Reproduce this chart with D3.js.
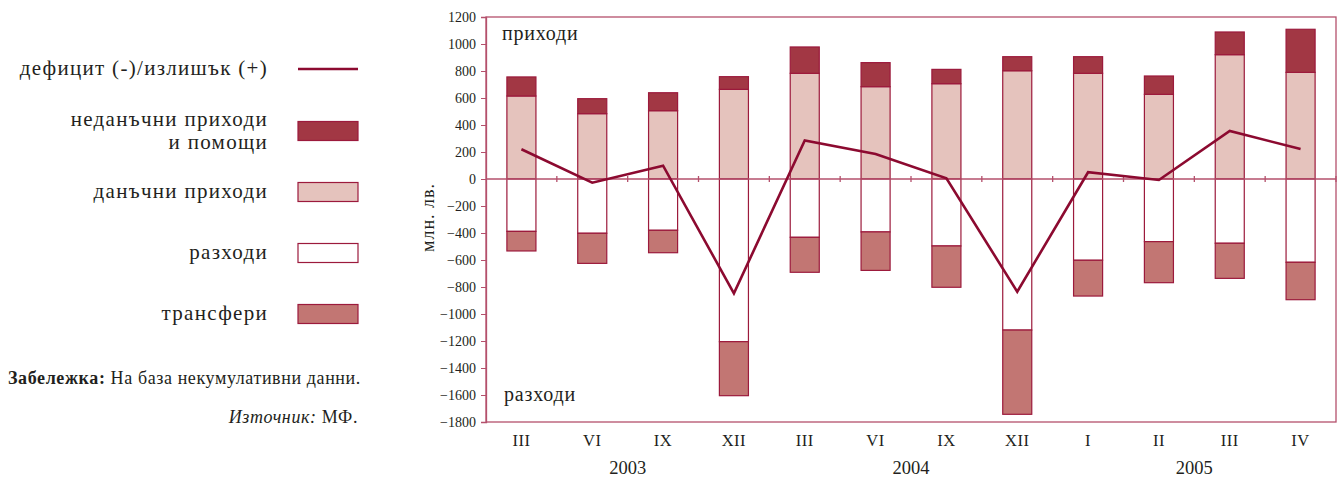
<!DOCTYPE html>
<html>
<head>
<meta charset="utf-8">
<script src="https://cdn.jsdelivr.net/npm/d3@7"></script>
<style>
  body { margin: 0; background: #fff; }
  text { font-family: "Liberation Serif", "DejaVu Serif", serif; fill: #231f20; }
</style>
</head>
<body>
<svg id="chart" width="1339" height="480"></svg>
<script>
// periods (roman month numbers) and the year each group belongs to
const months = ['III', 'VI', 'IX', 'XII', 'III', 'VI', 'IX', 'XII', 'I', 'II', 'III', 'IV'];
const years = [
  { label: '2003', from: 0, to: 3 },
  { label: '2004', from: 4, to: 7 },
  { label: '2005', from: 8, to: 11 }
];

// млн. лв.
const taxRevenue = [615, 484, 506, 664, 783, 684, 706, 802, 783, 627, 921, 790];
const nonTaxRevenue = [141, 111, 133, 94, 195, 178, 106, 104, 123, 136, 168, 319];
const expenditure = [-388, -402, -380, -1205, -432, -392, -496, -1119, -602, -464, -476, -617];
const transfers = [-145, -223, -166, -400, -259, -285, -306, -624, -265, -304, -260, -277];
const balance = [220, -27, 99, -847, 286, 185, 5, -835, 50, -7, 356, 222];

const yTicks = d3.range(-1800, 1201, 200);

const col = {
  nonTax: '#a23744',
  tax: '#e5c3bd',
  exp: '#ffffff',
  trans: '#c27673',
  stroke: '#9c1a3c',
  line: '#8c0a30',
  axis: '#b4506c'
};

const svg = d3.select('#chart');

const x = d3.scaleBand()
  .domain(d3.range(months.length))
  .range([486, 1336])
  .paddingInner(0.59)
  .paddingOuter(0.295);

const y = d3.scaleLinear().domain([-1800, 1200]).range([422, 17]);

const rows = months.map((m, i) => ({
  i,
  tax: taxRevenue[i],
  nonTax: nonTaxRevenue[i],
  exp: expenditure[i],
  trans: transfers[i],
  bal: balance[i]
}));

// frame
svg.append('rect')
  .attr('x', x.range()[0]).attr('y', y(1200))
  .attr('width', x.range()[1] - x.range()[0])
  .attr('height', y(-1800) - y(1200))
  .attr('fill', 'none').attr('stroke', col.axis).attr('stroke-width', 1.3);

// y axis
const yAxis = svg.append('g')
  .attr('transform', 'translate(486,0)')
  .call(d3.axisLeft(y).tickValues(yTicks).tickSize(5).tickPadding(5).tickFormat(d3.format('d')));
yAxis.select('.domain').attr('stroke', col.axis).attr('stroke-width', 1.3);
yAxis.selectAll('line').attr('stroke', col.axis);
yAxis.selectAll('text')
  .style('font-family', '"Liberation Serif", serif')
  .style('font-size', '14px').attr('fill', '#231f20');

svg.append('text')
  .attr('transform', 'translate(434,' + y(-285) + ') rotate(-90)')
  .attr('text-anchor', 'middle')
  .style('font-size', '18px')
  .style('letter-spacing', '1px')
  .text('млн. лв.');

// bars
const bars = svg.append('g');
const seg = (key, v0, v1, fill) => bars.selectAll('rect.' + key)
  .data(rows).join('rect')
  .attr('class', key)
  .attr('x', d => x(d.i))
  .attr('width', x.bandwidth())
  .attr('y', d => y(Math.max(v0(d), v1(d))))
  .attr('height', d => Math.abs(y(v0(d)) - y(v1(d))))
  .attr('fill', fill)
  .attr('stroke', col.stroke)
  .attr('stroke-width', 1.2);

seg('tax', d => 0, d => d.tax, col.tax);
seg('nonTax', d => d.tax, d => d.tax + d.nonTax, col.nonTax);
seg('exp', d => 0, d => d.exp, col.exp);
seg('trans', d => d.exp, d => d.exp + d.trans, col.trans);

// zero line with ticks at group borders
svg.append('line')
  .attr('x1', 486).attr('x2', 1336)
  .attr('y1', y(0)).attr('y2', y(0))
  .attr('stroke', col.axis).attr('stroke-width', 1.3);
svg.append('g').selectAll('line')
  .data(d3.range(1, months.length + 1))
  .join('line')
  .attr('x1', i => x(i - 1) - x.step() * x.paddingInner() / 2 + x.step())
  .attr('x2', i => x(i - 1) - x.step() * x.paddingInner() / 2 + x.step())
  .attr('y1', y(0) - 3).attr('y2', y(0) + 3)
  .attr('stroke', col.axis).attr('stroke-width', 1.3);

// balance line
const line = d3.line()
  .x(d => x(d.i) + x.bandwidth() / 2)
  .y(d => y(d.bal));
svg.append('path')
  .datum(rows)
  .attr('d', line)
  .attr('fill', 'none')
  .attr('stroke', col.line)
  .attr('stroke-width', 2.6);

// labels inside plot
svg.append('text').attr('x', 502).attr('y', 40)
  .style('font-size', '20px').style('letter-spacing', '0.8px').text('приходи');
svg.append('text').attr('x', 504).attr('y', 401)
  .style('font-size', '20px').style('letter-spacing', '0.8px').text('разходи');

// x labels
svg.append('g').selectAll('text')
  .data(months).join('text')
  .attr('x', (m, i) => x(i) + x.bandwidth() / 2)
  .attr('y', 446)
  .attr('text-anchor', 'middle')
  .style('font-size', '16.5px')
  .style('letter-spacing', '0.5px')
  .text(m => m);

svg.append('g').selectAll('text')
  .data(years).join('text')
  .attr('x', d => (x(d.from) + x(d.to) + x.bandwidth()) / 2)
  .attr('y', 474)
  .attr('text-anchor', 'middle')
  .style('font-size', '18.5px')
  .text(d => d.label);

// legend
const legend = [
  { lines: ['дефицит (-)/излишък (+)'], type: 'line', y: 69 },
  { lines: ['неданъчни приходи', 'и помощи'], type: 'rect', fill: col.nonTax, y: 131 },
  { lines: ['данъчни приходи'], type: 'rect', fill: col.tax, y: 192 },
  { lines: ['разходи'], type: 'rect', fill: col.exp, y: 253 },
  { lines: ['трансфери'], type: 'rect', fill: col.trans, y: 314 }
];
const lg = svg.append('g');
legend.forEach(d => {
  const t = lg.append('text')
    .attr('x', 268)
    .attr('text-anchor', 'end')
    .style('font-size', '21px')
    .style('letter-spacing', '1.3px');
  const n = d.lines.length;
  d.lines.forEach((l, k) => {
    t.append('tspan')
      .attr('x', 268)
      .attr('y', d.y + 6 + (k - (n - 1) / 2) * 23)
      .text(l);
  });
  if (d.type === 'line') {
    lg.append('line')
      .attr('x1', 298).attr('x2', 358)
      .attr('y1', d.y).attr('y2', d.y)
      .attr('stroke', col.line).attr('stroke-width', 2.6);
  } else {
    lg.append('rect')
      .attr('x', 298).attr('y', d.y - 9.5)
      .attr('width', 60).attr('height', 19)
      .attr('fill', d.fill)
      .attr('stroke', col.stroke).attr('stroke-width', 1.2);
  }
});

// notes
const note = svg.append('text').attr('x', 8).attr('y', 384)
  .style('font-size', '18px').style('letter-spacing', '0.6px');
note.append('tspan').style('font-weight', 'bold').text('Забележка:');
note.append('tspan').text(' На база некумулативни данни.');

const src = svg.append('text').attr('x', 358).attr('y', 423)
  .attr('text-anchor', 'end').style('font-size', '18px').style('letter-spacing', '0.6px');
src.append('tspan').style('font-style', 'italic').text('Източник:');
src.append('tspan').text(' МФ.');
</script>
</body>
</html>
